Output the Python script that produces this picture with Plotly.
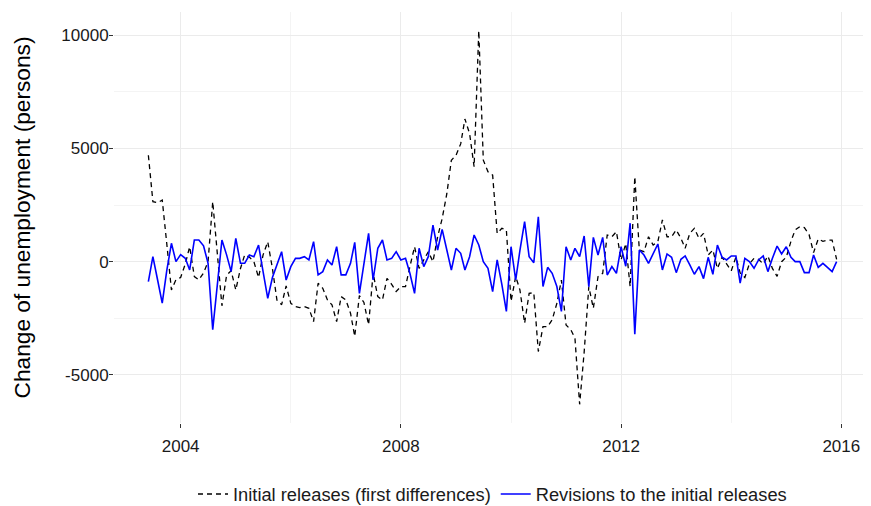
import pandas as pd
import plotly.graph_objects as go

months = pd.date_range("2003-06-01", periods=151, freq="MS")

initial_releases = [
    4700, 2650, 2600, 2720, 800, -1250, -800, -700, -100, 660,
    -660, -800, -500, 0, 2650, 300, -1950, -600, -400, -1250,
    -300, 300, 200, 0, -700, 300, 880, -300, -1700, -1900,
    -1075, -1840, -1985, -2030, -1985, -2060, -2645, -955, -1175, -1690,
    -1910, -2645, -1545, -1690, -2275, -3300, -1500, -1800, -2790, -515,
    -1545, -1690, -735, -1000, -1320, -1100, -1100, -220, 662, -300,
    75, 440, 0, 1100, 1900, 3000, 4480, 4700, 5200, 6300,
    5660, 4190, 10200, 4480, 3970, 3820, 1250, 1470, 1400, -1750,
    -660, -1250, -2720, -1400, -1370, -3970, -2870, -2870, -2570, -1840,
    -810, -2800, -3000, -3380, -6300, -4000, -1100, -2060, -660, -515,
    1176, 1100, 1323, 75, 800, -1100, 3750, 515, 440, 1100,
    735, 884, 1840, 1100, 1100, 1400, 1030, 588, 1250, 1470,
    1030, 1250, 294, 515, -300, 200, -100, -400, 200, -500,
    -700, -100, 150, 100, -100, 250, -300, -650, 0, 200,
    900, 1400, 1550, 1500, 1200, 400, 1000, 900, 950, 950, 100,
]

revisions = [
    -880, 220, -800, -1835, -400, 811, 0, 309, 150, -366,
    957, 957, 700, -73, -3000, -1000, 956, 300, -441, 1030,
    -72, -72, 294, 221, 735, -441, -1617, -700, -100, 441,
    -810, -220, 147, 147, 220, 75, 884, -585, -440, 75,
    -150, 663, -585, -585, -75, 850, -1400, -180, 1250, -810,
    590, 957, 75, 147, 442, 75, 147, -515, -1400, 590,
    -220, 220, 1617, 515, 1426, 515, -370, 590, 370, -370,
    220, 1176, 735, 0, -290, -1320, 75, -1000, -2200, 660,
    -810, 500, 1766, 221, -45, 1985, -1100, -250, -515, -1100,
    -2200, 660, 75, 588, 220, 1132, -1100, 1073, 294, 1073,
    -590, -220, -515, 660, -200, 1700, -3200, 515, 294, -73,
    369, 780, -367, 339, 192, -485, 104, 251, -146, -557,
    -220, -750, 192, -557, 735, 192, 75, 250, 250, -950,
    148, 0, -294, 75, 250, -440, 148, 690, 340, 660,
    192, 0, 0, -485, -485, 294, -250, -73, -250, -440, 0,
]

series_names = ["Initial releases (first differences)", "Revisions to the initial releases"]
y_ticks = [-5000, 0, 5000, 10000]
y_ticklabels = ["-5000", "0", "5000", "10000"]
y_minor = [-2500, 2500, 7500]
x_ticks = ["2004-01-01", "2008-01-01", "2012-01-01", "2016-01-01"]
x_ticklabels = ["2004", "2008", "2012", "2016"]
x_minor = ["2006-01-01", "2010-01-01", "2014-01-01"]

FONT = "Liberation Sans, Arial, sans-serif"

fig = go.Figure()
fig.add_trace(go.Scatter(x=months, y=initial_releases, mode="lines", name=series_names[0],
                         line=dict(color="black", width=1.3, dash="5px,4px")))
fig.add_trace(go.Scatter(x=months, y=revisions, mode="lines", name=series_names[1],
                         line=dict(color="#0000FF", width=1.6)))

# the page body has an 8px default margin; the figure is offset to compensate
fig.update_layout(
    width=863, height=512,
    margin=dict(l=106, r=0, t=4, b=97, autoexpand=False),
    paper_bgcolor="white", plot_bgcolor="white",
    font=dict(family=FONT, size=17, color="#1a1a1a"),
    showlegend=True,
    legend=dict(orientation="h", x=0.5, xanchor="center", y=-0.173, yanchor="middle",
                font=dict(size=18.3, color="#1a1a1a"), bgcolor="rgba(0,0,0,0)",
                itemwidth=30, tracegroupgap=0),
)
fig.update_xaxes(
    type="date", range=["2002-10-16", "2016-07-16"], automargin=False,
    tickvals=x_ticks, ticktext=x_ticklabels,
    ticks="outside", ticklen=4, tickwidth=1, tickcolor="#333333",
    ticklabelstandoff=4,
    showgrid=True, gridcolor="#EBEBEB", gridwidth=1.1,
    minor=dict(tickvals=x_minor, showgrid=True, gridcolor="#F4F4F4", gridwidth=0.6, ticks=""),
    zeroline=False, showline=False,
    tickfont=dict(size=17, color="#1a1a1a"),
)
fig.update_yaxes(
    range=[-7125, 11025], automargin=False,
    tickvals=y_ticks, ticktext=y_ticklabels,
    ticks="outside", ticklen=4, tickwidth=1, tickcolor="#333333",
    ticklabelstandoff=-3,
    showgrid=True, gridcolor="#EBEBEB", gridwidth=1.1,
    minor=dict(tickvals=y_minor, showgrid=True, gridcolor="#F4F4F4", gridwidth=0.6, ticks=""),
    zeroline=False, showline=False,
    tickfont=dict(size=17, color="#1a1a1a"),
    title=dict(text="Change of unemployment (persons)", font=dict(size=22.7, color="#000000"), standoff=24),
)

fig.write_html("out.html")
